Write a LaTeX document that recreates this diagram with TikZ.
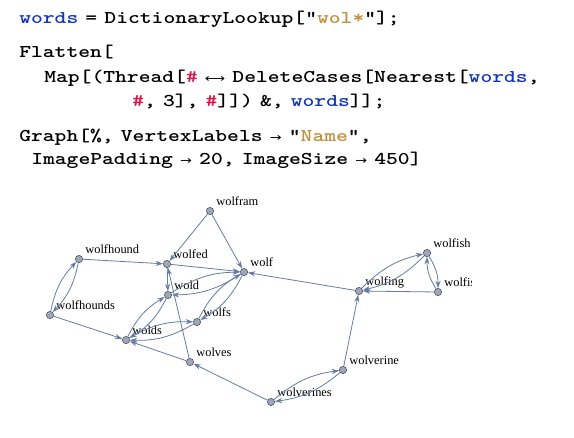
\documentclass[tikz,border=0pt]{standalone}
\usepackage{fontspec}
\setmainfont{Liberation Serif}
\newfontfamily\arrowfont{DejaVu Sans}
\usepackage{graphicx}
\usepackage{xcolor}
\definecolor{mmblue}{RGB}{20,55,180}
\definecolor{mmred}{RGB}{215,25,80}
\definecolor{mmgold}{RGB}{190,145,60}
\definecolor{mmedge}{RGB}{102,122,163}
\definecolor{mmvertex}{RGB}{158,166,186}
\definecolor{mmrim}{RGB}{70,72,82}
\usepackage{tikz}
\usetikzlibrary{arrows.meta}

\newcommand{\wvar}[1]{\textcolor{mmblue}{#1}}
\newcommand{\wslot}{\textcolor{mmred}{\#}}
\newcommand{\wstr}[1]{"\textcolor{mmgold}{#1}"}
\newcommand{\wrule}{{\arrowfont\mdseries\fontsize{8.5}{10}\selectfont →}}
\newcommand{\wtwoway}{{\arrowfont\mdseries\fontsize{8.5}{10}\selectfont ⟷}}
\newcommand{\wline}[1]{\spaceskip=4.3pt\relax\scalebox{1.25}[1]{#1}}

\begin{document}
\begin{tikzpicture}[x=0.75pt, y=-0.75pt,
    codeline/.style={anchor=base west, inner sep=0pt,
        font=\ttfamily\bfseries\fontsize{13.5}{16}\selectfont},
    vtx/.style={circle, draw=mmrim, line width=0.4pt, fill=mmvertex,
        inner sep=0pt, minimum size=5.5pt},
    vlabel/.style={anchor=base west, inner sep=0pt,
        font=\fontsize{9.3}{11}\selectfont, xshift=2.5pt, yshift=2.2pt},
    link/.style={draw=mmedge, line width=0.6pt,
        -{Stealth[length=5.5pt,width=3.8pt]}}]
  \useasboundingbox (0,0) rectangle (574,437);

  % Input cells
  \node[codeline] (in1) at (19,23) {\wline{\wvar{words} = DictionaryLookup[\wstr{wol*}];}};
  \node[codeline] (in2) at (19,57) {\wline{Flatten[}};
  \node[codeline] (in3) at (44,82) {\wline{Map[(Thread[\wslot{} \wtwoway{} DeleteCases[Nearest[\wvar{words},}};
  \node[codeline] (in4) at (132,106) {\wline{\wslot, 3], \wslot]]) \&, \wvar{words}]];}};
  \node[codeline] (in5) at (19,141) {\wline{Graph[\%, VertexLabels \wrule{} \wstr{Name},}};
  \node[codeline] (in6) at (31,164) {\wline{ImagePadding \wrule{} 20, ImageSize \wrule{} 450]}};

  \begin{scope}
    \clip (0,185) rectangle (471,437);
    % Vertices
    \node[vtx, label={[vlabel]45:wolfram}] (wolfram) at (210,211) {};
    \node[vtx, label={[vlabel]45:wolfhound}] (wolfhound) at (79,259) {};
    \node[vtx, label={[vlabel]45:wolfed}] (wolfed) at (167,264) {};
    \node[vtx, label={[vlabel]45:wolf}] (wolf) at (244,272) {};
    \node[vtx, label={[vlabel]45:wold}] (wold) at (168,295) {};
    \node[vtx, label={[vlabel]45:wolfhounds}] (wolfhounds) at (50,315) {};
    \node[vtx, label={[vlabel]45:wolfs}] (wolfs) at (197,322) {};
    \node[vtx, label={[vlabel]45:wolds}] (wolds) at (126,340) {};
    \node[vtx, label={[vlabel]45:wolves}] (wolves) at (190,362) {};
    \node[vtx, label={[vlabel]45:wolverine}] (wolverine) at (343,370) {};
    \node[vtx, label={[vlabel]45:wolverines}] (wolverines) at (271,402) {};
    \node[vtx, label={[vlabel]45:wolfing}] (wolfing) at (359,291) {};
    \node[vtx, label={[vlabel]45:wolfish}] (wolfish) at (427,253) {};
    \node[vtx, label={[vlabel]45:wolfis}] (wolfis) at (438,292) {};

    % Edges
    \draw[link] (wolfram) -- (wolfed);
    \draw[link] (wolfram) -- (wolf);
    \draw[link] (wolfhound) -- (wolfed);
    \draw[link] (wolfhound) to[bend left=16] (wolfhounds);
    \draw[link] (wolfhounds) to[bend left=16] (wolfhound);
    \draw[link] (wolfhounds) -- (wolds);
    \draw[link] (wolfed) -- (wolf);
    \draw[link] (wolfed) -- (wold);
    \draw[link] (wold) to[bend left=16] (wolf);
    \draw[link] (wolf) to[bend left=16] (wold);
    \draw[link] (wolds) to[bend left=16] (wold);
    \draw[link] (wold) to[bend left=16] (wolds);
    \draw[link] (wolds) to[bend left=16] (wolfs);
    \draw[link] (wolfs) to[bend left=16] (wolds);
    \draw[link] (wolfs) to[bend left=16] (wolf);
    \draw[link] (wolf) to[bend left=16] (wolfs);
    \draw[link] (wolves) -- (wolfed);
    \draw[link] (wolves) -- (wolds);
    \draw[link] (wolverines) -- (wolves);
    \draw[link] (wolverines) to[bend left=16] (wolverine);
    \draw[link] (wolverine) to[bend left=16] (wolverines);
    \draw[link] (wolverine) -- (wolfing);
    \draw[link] (wolfing) -- (wolf);
    \draw[link] (wolfing) to[bend left=16] (wolfish);
    \draw[link] (wolfish) to[bend left=16] (wolfing);
    \draw[link] (wolfish) to[bend left=16] (wolfis);
    \draw[link] (wolfis) to[bend left=16] (wolfish);
    \draw[link] (wolfis) -- (wolfing);
  \end{scope}
\end{tikzpicture}
\end{document}
